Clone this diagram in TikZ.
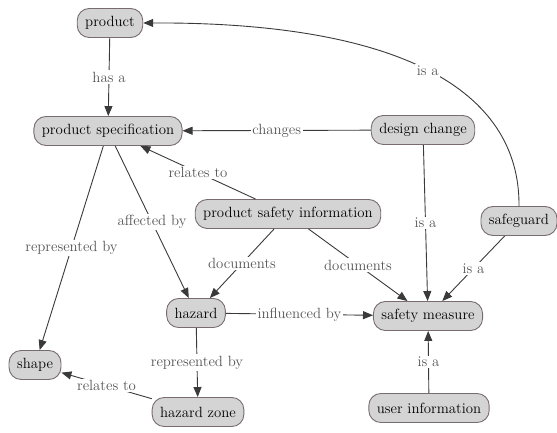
\documentclass[tikz,border=0pt]{standalone}
\usepackage{fontspec}
\newcommand\lblsize{\rmfamily\fontsize{14.8}{18}\selectfont}
\usetikzlibrary{arrows.meta}
\definecolor{nodefill}{HTML}{D4D4D4}
\definecolor{nodeline}{HTML}{786C6E}
\definecolor{edgecol}{HTML}{3A3A3A}
\definecolor{lblcol}{HTML}{555555}
\begin{document}
\begin{tikzpicture}[x=1pt,y=-1pt,
  concept/.style={draw=nodeline, fill=nodefill, line width=0.9pt, rounded corners=12pt,
    minimum height=29pt, inner xsep=8pt, inner ysep=0pt, text=black,
    font=\lblsize},
  edge/.style={draw=edgecol, line width=0.9pt, -{Triangle[length=10pt,width=8pt]}},
  lbl/.style={fill=white, text=lblcol, inner sep=1.5pt, font=\lblsize}]
\useasboundingbox (0,0) rectangle (557,433);

\node[concept] (product) at (110,23) {product};
\node[concept] (spec) at (108,131) {product specification};
\node[concept] (design) at (423,130) {design change};
\node[concept] (psi) at (288,214) {product safety information};
\node[concept] (safeguard) at (519,221) {safeguard};
\node[concept] (hazard) at (196,313) {hazard};
\node[concept] (measure) at (428,316) {safety measure};
\node[concept] (shape) at (35,365) {shape};
\node[concept] (zone) at (198,412) {hazard zone};
\node[concept] (user) at (429,408) {user information};

\draw[edge] (product) -- node[lbl]{has a} (spec);
\draw[edge] (design) -- node[lbl]{changes} (spec);
\draw[edge] (psi) -- node[lbl]{relates to} (spec);
\draw[edge] (spec) -- node[lbl]{represented by} (shape);
\draw[edge] (spec) -- node[lbl]{affected by} (hazard);
\draw[edge] (psi) -- node[lbl]{documents} (hazard);
\draw[edge] (psi) -- node[lbl]{documents} (measure);
\draw[edge] (design) -- node[lbl]{is a} (measure);
\draw[edge] (safeguard) -- node[lbl]{is a} (measure);
\draw[edge] (hazard) -- node[lbl]{influenced by} (measure);
\draw[edge] (hazard) -- node[lbl]{represented by} (zone);
\draw[edge] (zone) -- node[lbl]{relates to} (shape);
\draw[edge] (user) -- node[lbl]{is a} (measure);
\draw[edge] (safeguard.north) .. controls (520,90) and (400,22) .. node[lbl]{is a} (product.east);
\end{tikzpicture}
\end{document}
